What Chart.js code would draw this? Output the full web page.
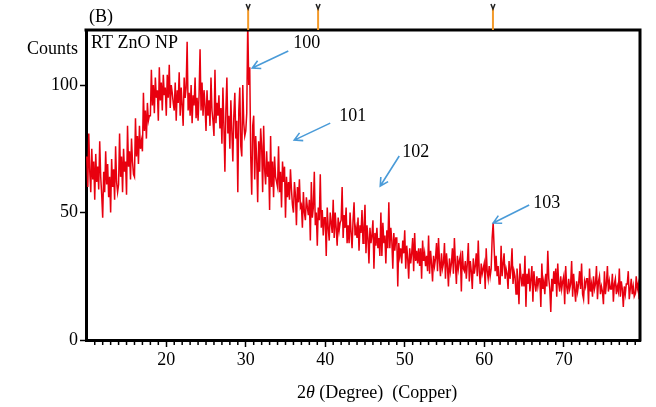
<!DOCTYPE html>
<html>
<head>
<meta charset="utf-8">
<script src="https://cdn.jsdelivr.net/npm/chart.js@4.4.0/dist/chart.umd.min.js"></script>
<style>
  html, body { margin: 0; padding: 0; background: #fff; }
</style>
</head>
<body>
<canvas id="chart" width="656" height="407"></canvas>
<script>
// XRD scan of RT ZnO nanoparticles, 2theta sampled every 0.125 deg from 10 deg
const startAngle = 10;
const stepAngle = 0.125;
// one row per degree (10 .. 79)
const counts = [
  72, 60, 81, 66, 58, 75, 63, 70,
  55, 73, 62, 68, 59, 78, 64, 57,
  48, 66, 58, 74, 61, 69, 56, 64,
  50, 71, 60, 67, 55, 76, 62, 58,
  61, 81, 64, 72, 58, 75, 66, 70,
  57, 84, 68, 74, 63, 79, 70, 65,
  64, 87, 72, 80, 69, 84, 75, 78,
  74, 97, 82, 90, 79, 93, 86, 88,
  88, 106, 92, 100, 89, 103, 95, 98,
  86, 107, 94, 101, 90, 104, 96, 99,
  88, 104, 95, 108, 91, 100, 97, 93,
  90, 101, 86, 98, 93, 105, 88, 99,
  92, 84, 103, 95, 99, 117, 90, 97,
  88, 100, 85, 96, 92, 103, 87, 95,
  86, 96, 114, 90, 101, 88, 98, 92,
  82, 98, 88, 94, 84, 103, 90, 86,
  80, 106, 85, 93, 88, 96, 83, 91,
  77, 99, 84, 66, 90, 103, 81, 88,
  75, 94, 82, 70, 88, 97, 79, 86,
  58, 90, 99, 76, 72, 100, 85, 80,
  82, 89, 125, 100, 107, 72, 57, 84,
  88, 63, 80, 71, 54, 78, 66, 83,
  76, 58, 84, 67, 61, 74, 64, 70,
  51, 80, 60, 70, 56, 72, 64, 62,
  60, 76, 58, 66, 52, 70, 62, 68,
  48, 64, 56, 62, 55, 67, 59, 53,
  50, 62, 57, 45, 60, 54, 63, 52,
  53, 44, 58, 50, 47, 56, 52, 49,
  55, 39, 62, 48, 52, 66, 45, 50,
  37, 52, 47, 65, 44, 51, 41, 48,
  48, 33, 52, 44, 39, 50, 46, 42,
  55, 40, 50, 44, 37, 48, 43, 46,
  47, 60, 40, 49, 44, 52, 38, 45,
  38, 50, 42, 36, 47, 54, 41, 44,
  40, 48, 35, 45, 42, 51, 38, 44,
  53, 34, 45, 40, 30, 44, 38, 41,
  47, 28, 42, 37, 44, 36, 40, 33,
  50, 33, 46, 38, 41, 30, 43, 36,
  54, 36, 44, 39, 28, 42, 35, 40,
  40, 21, 38, 33, 36, 30, 39, 34,
  43, 28, 37, 32, 24, 36, 30, 34,
  40, 27, 42, 31, 35, 30, 36, 29,
  36, 24, 39, 31, 34, 29, 33, 27,
  41, 26, 35, 30, 23, 33, 29, 32,
  38, 27, 40, 31, 25, 34, 28, 30,
  38, 24, 34, 29, 21, 32, 27, 30,
  36, 26, 40, 30, 22, 33, 28, 31,
  33, 19, 35, 28, 27, 31, 24, 30,
  38, 23, 31, 27, 20, 32, 26, 29,
  34, 25, 39, 27, 22, 30, 26, 28,
  30, 20, 36, 27, 24, 29, 25, 28,
  40, 46, 36, 27, 33, 25, 29, 22,
  22, 37, 25, 30, 34, 24, 28, 26,
  20, 31, 24, 28, 36, 22, 27, 25,
  18, 28, 23, 14, 30, 25, 21, 26,
  21, 33, 13, 26, 22, 28, 19, 24,
  29, 15, 27, 22, 19, 25, 21, 24,
  24, 13, 30, 20, 23, 18, 26, 21,
  35, 24, 20, 11, 24, 19, 27, 22,
  28, 17, 30, 22, 19, 25, 20, 23,
  25, 14, 29, 21, 18, 24, 20, 22,
  31, 17, 26, 20, 15, 23, 19, 22,
  27, 20, 30, 18, 16, 23, 21, 24,
  24, 14, 28, 19, 22, 17, 25, 20,
  22, 29, 16, 23, 25, 18, 21, 19,
  14, 27, 18, 22, 29, 19, 23, 20,
  20, 26, 15, 22, 24, 18, 21, 19,
  28, 17, 23, 20, 13, 21, 18, 22,
  22, 27, 16, 20, 24, 18, 21, 17,
  18, 25, 20, 22, 16
];

const xTicks = [20, 30, 40, 50, 60, 70];
const yTicks = [0, 50, 100];

// reference line positions marked above the frame
const refPeaks = [30.3, 39.1, 61.1];

// (hkl) labels and the points their arrows point at
const peakLabels = ["100", "101", "102", "103"];
const peakAngles = [30.82, 36.1, 46.92, 61.13];
const peakCounts = [106.7, 78.4, 60.4, 45.9];

const serif = "'Liberation Serif', 'Times New Roman', serif";

function arrow(ctx, x0, y0, x1, y1) {
  ctx.beginPath();
  ctx.moveTo(x0, y0);
  ctx.lineTo(x1, y1);
  const a = Math.atan2(y1 - y0, x1 - x0);
  const len = 9;
  ctx.moveTo(x1 - len * Math.cos(a - 0.5), y1 - len * Math.sin(a - 0.5));
  ctx.lineTo(x1, y1);
  ctx.lineTo(x1 - len * Math.cos(a + 0.5), y1 - len * Math.sin(a + 0.5));
  ctx.stroke();
}

const decor = {
  id: 'decor',
  afterDraw(chart) {
    const ctx = chart.ctx;
    const area = chart.chartArea;
    const xs = chart.scales.x;
    const ys = chart.scales.y;
    ctx.save();

    // top and right edges of the frame
    ctx.strokeStyle = '#000';
    ctx.lineWidth = 3;
    ctx.beginPath();
    ctx.moveTo(area.left - 1.5, area.top);
    ctx.lineTo(area.right, area.top);
    ctx.lineTo(area.right, area.bottom + 1.5);
    ctx.stroke();

    // minor ticks every degree
    ctx.lineWidth = 1.5;
    ctx.beginPath();
    for (let v = 11; v < 80; v++) {
      if (v % 10 === 0) continue;
      const px = xs.getPixelForValue(v);
      ctx.moveTo(px, area.bottom + 1);
      ctx.lineTo(px, area.bottom + 5);
    }
    ctx.stroke();

    // reference markers above the frame
    refPeaks.forEach(p => {
      const px = xs.getPixelForValue(p);
      ctx.strokeStyle = '#f39a2a';
      ctx.lineWidth = 2;
      ctx.beginPath();
      ctx.moveTo(px, 8);
      ctx.lineTo(px, area.top);
      ctx.stroke();
      ctx.strokeStyle = '#222';
      ctx.lineWidth = 1.5;
      ctx.beginPath();
      ctx.moveTo(px - 2, 4);
      ctx.lineTo(px, 9);
      ctx.lineTo(px + 2, 4);
      ctx.stroke();
    });

    // text
    ctx.fillStyle = '#000';
    ctx.textBaseline = 'middle';
    ctx.textAlign = 'left';
    ctx.font = '18px ' + serif;
    ctx.fillText('(B)', 89, 17);
    ctx.fillText('Counts', 27, 49);
    ctx.fillText('RT ZnO NP', 91, 43);

    // axis title, theta in italics
    let tx = 297;
    const ty = 393;
    ctx.fillText('2', tx, ty);
    tx += ctx.measureText('2').width;
    ctx.font = 'italic 18px ' + serif;
    ctx.fillText('\u03b8', tx, ty);
    tx += ctx.measureText('\u03b8').width;
    ctx.font = '18px ' + serif;
    ctx.fillText(' (Degree)  (Copper)', tx, ty);

    // (hkl) arrows
    const offsets = [[36, -17, 41, -25], [36, -17, 45, -24], [19, -30, 22, -34], [36, -18, 40, -20]];
    peakLabels.forEach((lab, i) => {
      const px = xs.getPixelForValue(peakAngles[i]);
      const py = ys.getPixelForValue(peakCounts[i]);
      const o = offsets[i];
      ctx.strokeStyle = '#4a9bd8';
      ctx.lineWidth = 1.6;
      arrow(ctx, px + o[0], py + o[1], px, py);
      ctx.fillStyle = '#000';
      ctx.fillText(lab, px + o[2], py + o[3]);
    });

    ctx.restore();
  }
};

new Chart(document.getElementById('chart'), {
  type: 'line',
  data: {
    datasets: [{
      data: counts.map((c, i) => ({ x: startAngle + i * stepAngle, y: c })),
      borderColor: '#e8000f',
      borderWidth: 1.5,
      pointRadius: 0,
      tension: 0,
      fill: false
    }]
  },
  options: {
    responsive: false,
    animation: false,
    layout: { padding: { left: 0, top: 30, right: 16, bottom: 0 } },
    plugins: { legend: { display: false }, tooltip: { enabled: false } },
    scales: {
      x: {
        type: 'linear',
        min: 9.9,
        max: 79.6,
        afterBuildTicks: s => { s.ticks = xTicks.map(v => ({ value: v })); },
        afterFit: s => { s.height = 67; },
        grid: { drawOnChartArea: false, tickLength: 7, tickWidth: 1.5, tickColor: '#000' },
        border: { color: '#000', width: 3 },
        ticks: { color: '#000', font: { family: serif, size: 18 }, padding: 2, maxRotation: 0 }
      },
      y: {
        min: 0,
        max: 121.6,
        afterBuildTicks: s => { s.ticks = yTicks.map(v => ({ value: v })); },
        afterFit: s => { s.width = 86; },
        grid: { drawOnChartArea: false, tickLength: 6, tickWidth: 1.5, tickColor: '#000' },
        border: { color: '#000', width: 3 },
        ticks: { color: '#000', font: { family: serif, size: 18 }, padding: 2 }
      }
    }
  },
  plugins: [decor]
});
</script>
</body>
</html>
